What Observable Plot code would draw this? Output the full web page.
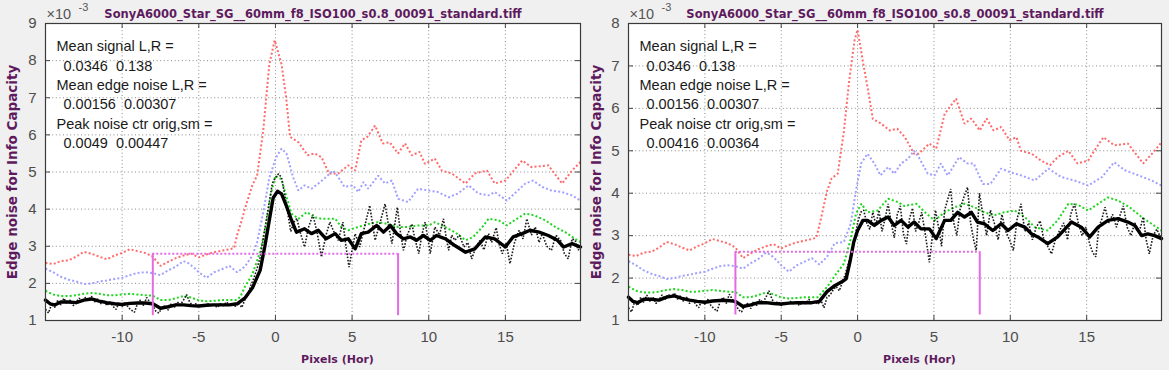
<!DOCTYPE html>
<html><head><meta charset="utf-8">
<script src="https://cdn.jsdelivr.net/npm/d3@7"></script>
<script src="https://cdn.jsdelivr.net/npm/@observablehq/plot@0.6"></script>
<style>
html,body{margin:0;padding:0;background:#f0f0f0;}
#wrap{position:relative;width:1169px;height:370px;overflow:hidden;background:#f0f0f0;}
.panel{position:absolute;top:0;}
</style></head><body><div id="wrap"></div>
<script>
// ---------- data (x in pixels, y in units of 1e-3) ----------
const titleText = "SonyA6000_Star_SG__60mm_f8_ISO100_s0.8_00091_standard.tiff";
const xTicks = [-10, -5, 0, 5, 10, 15];
const yTicksL = [1, 2, 3, 4, 5, 6, 7, 8, 9];
const yTicksR = [1, 2, 3, 4, 5, 6, 7, 8];

// shared dark side (identical in both panels)
const redBase = [[-15,2.55],[-14.5,2.52],[-14,2.6],[-13.5,2.62],[-13,2.72],[-12.5,2.85],[-12,2.8],[-11.5,2.72],[-11,2.65],[-10.5,2.75],[-10,2.82],[-9.5,2.92],[-9,2.87],[-8.5,2.82],[-8,2.72],[-7.5,2.47],[-7,2.58],[-6.5,2.68],[-6,2.75],[-5.5,2.8],[-5,2.7],[-4.5,2.78],[-4,2.84],[-3.5,2.88],[-3,2.92]];
const blueBase = [[-15,2.4],[-14.5,2.3],[-14,2.18],[-13.5,2.1],[-13,2.05],[-12.5,1.98],[-12,2.0],[-11.5,2.05],[-11,2.08],[-10.5,2.12],[-10,2.15],[-9.5,2.22],[-9,2.28],[-8.5,2.3],[-8,2.28],[-7.5,2.22],[-7,2.35],[-6.5,2.45],[-6,2.6],[-5.7,2.55],[-5.3,2.42],[-5,2.3],[-4.5,2.15],[-4,2.3],[-3.5,2.38],[-3,2.47],[-2.5,2.3]];
const greenBase = [[-15,1.8],[-14.5,1.7],[-14,1.66],[-13.5,1.66],[-13,1.68],[-12.5,1.72],[-12,1.74],[-11.5,1.72],[-11,1.68],[-10.5,1.68],[-10,1.7],[-9.5,1.72],[-9,1.7],[-8.5,1.68],[-8,1.67],[-7.5,1.55],[-7,1.55],[-6.5,1.6],[-6,1.66],[-5.5,1.62],[-5,1.54],[-4.5,1.52],[-4,1.53],[-3.5,1.55],[-3,1.55],[-2.6,1.55]];
const smoothBase = [[-15,1.55],[-14.7,1.45],[-14.4,1.42],[-14,1.5],[-13.5,1.5],[-13,1.48],[-12.5,1.55],[-12,1.58],[-11.5,1.52],[-11,1.48],[-10.5,1.45],[-10,1.43],[-9.5,1.46],[-9,1.47],[-8.5,1.47],[-8,1.45],[-7.5,1.33],[-7,1.37],[-6.5,1.42],[-6,1.42],[-5.5,1.4],[-5,1.39],[-4.5,1.41],[-4,1.42],[-3.5,1.42],[-3,1.42],[-2.5,1.45]];
const origBase = [[-15,1.3],[-14.8,1.2],[-14.6,1.45],[-14.4,1.35],[-14.2,1.55],[-14,1.42],[-13.8,1.6],[-13.6,1.45],[-13.4,1.55],[-13.2,1.4],[-13,1.5],[-12.8,1.6],[-12.6,1.5],[-12.4,1.62],[-12.2,1.55],[-12,1.65],[-11.8,1.5],[-11.6,1.58],[-11.4,1.45],[-11.2,1.55],[-11,1.4],[-10.8,1.5],[-10.6,1.38],[-10.4,1.3],[-10.2,1.48],[-10,1.38],[-9.8,1.5],[-9.6,1.35],[-9.4,1.28],[-9.2,1.22],[-9,1.45],[-8.8,1.55],[-8.6,1.4],[-8.4,1.62],[-8.2,1.5],[-8,1.4],[-7.8,1.25],[-7.6,1.2],[-7.4,1.35],[-7.2,1.4],[-7,1.28],[-6.8,1.45],[-6.6,1.35],[-6.4,1.5],[-6.2,1.42],[-6,1.55],[-5.8,1.7],[-5.6,1.5],[-5.4,1.4],[-5.2,1.45],[-5,1.35],[-4.8,1.42],[-4.6,1.38],[-4.4,1.45],[-4.2,1.4],[-4,1.42],[-3.8,1.35],[-3.6,1.45],[-3.4,1.4],[-3.2,1.5],[-3,1.42],[-2.8,1.45],[-2.6,1.38],[-2.4,1.48]];

// left panel, edge and bright side
const redA = [[-2.7,2.95],[-2.5,3.3],[-2.2,3.7],[-2,4.0],[-1.5,4.65],[-1.2,4.9],[-0.8,6.1],[-0.4,7.9],[-0.05,8.55],[0.4,7.9],[0.7,7.0],[0.95,5.95],[1.5,5.8],[2.1,5.45],[2.55,5.5],[3,5.4],[3.5,4.96],[4.1,4.96],[4.75,5.18],[5.2,5.04],[5.6,5.85],[6.0,5.95],[6.5,6.25],[7,5.77],[7.45,5.8],[8,5.5],[8.45,5.77],[8.9,5.45],[9.4,5.54],[9.75,5.22],[10.4,5.36],[10.85,5.04],[11.5,4.96],[12.4,4.69],[13,4.96],[13.8,5.04],[14.3,4.69],[15,4.77],[16.1,5.31],[16.7,5.13],[17.8,5.18],[18.7,4.69],[19.35,5.04],[19.9,5.27]];
const blueA = [[-2,2.45],[-1.5,2.75],[-1.2,3.1],[-0.8,3.9],[-0.4,4.85],[0.05,5.4],[0.4,5.63],[0.72,5.5],[1.15,4.86],[1.5,4.5],[1.9,4.64],[2.35,4.55],[2.8,4.69],[3.2,4.83],[3.77,5.04],[4.1,4.86],[4.5,4.6],[5.05,4.64],[5.4,4.46],[5.75,4.73],[6.05,4.55],[6.7,4.9],[7.15,4.69],[7.6,4.77],[8,4.28],[8.65,4.19],[9.3,4.55],[10,4.5],[10.6,4.46],[11.3,4.32],[11.9,4.42],[12.6,4.64],[13.25,4.42],[13.9,4.37],[14.3,4.46],[15.1,4.23],[15.6,4.42],[16.3,4.69],[16.8,4.77],[17.4,4.6],[18,4.5],[18.7,4.46],[19.35,4.37],[19.9,4.23]];
const greenA = [[-2.3,1.63],[-2,1.9],[-1.5,2.25],[-1,2.85],[-0.6,3.6],[-0.3,4.4],[0,4.9],[0.4,4.8],[0.7,4.35],[1.05,3.88],[1.5,3.74],[2.05,3.92],[2.55,3.78],[3,3.74],[3.9,3.74],[4.3,3.52],[4.75,3.43],[5.4,3.52],[6.05,3.6],[6.7,3.65],[7.35,3.6],[8,3.52],[8.65,3.52],[9.3,3.56],[10,3.56],[10.4,3.65],[11.05,3.52],[11.7,3.38],[12.4,3.16],[12.9,3.25],[13.5,3.52],[13.9,3.74],[14.55,3.7],[15.1,3.56],[15.6,3.7],[16.3,3.88],[16.9,3.83],[17.6,3.7],[18.25,3.52],[18.9,3.38],[19.55,3.2],[19.9,3.11]];
const smoothA = [[-2,1.6],[-1.5,1.88],[-1.0,2.35],[-0.7,2.98],[-0.4,3.7],[-0.15,4.3],[0.13,4.48],[0.4,4.41],[0.7,4.1],[1.05,3.7],[1.37,3.38],[1.9,3.47],[2.35,3.34],[2.8,3.43],[3.3,3.2],[3.9,3.34],[4.3,3.16],[4.75,3.2],[5.2,2.93],[5.6,3.34],[6.05,3.38],[6.6,3.56],[7.05,3.38],[7.5,3.56],[7.9,3.34],[8.35,3.2],[8.8,3.25],[9.2,3.16],[9.65,3.29],[10.1,3.16],[10.5,3.29],[11.1,3.2],[11.7,3.02],[12.4,2.84],[13,2.93],[13.7,3.25],[14.3,3.2],[15,2.98],[15.5,3.25],[16.1,3.34],[16.6,3.43],[17.2,3.38],[17.8,3.29],[18.4,3.16],[18.8,2.98],[19.35,3.07],[19.9,2.98]];
const origA = [[-2.2,1.35],[-2,1.55],[-1.8,1.7],[-1.6,1.95],[-1.4,2.15],[-1.2,2.4],[-1,2.7],[-0.8,3.2],[-0.6,3.7],[-0.4,4.2],[-0.2,4.7],[0,4.85],[0.2,4.95],[0.4,4.85],[0.6,4.4],[0.8,3.9],[1.0,3.4],[1.2,3.65],[1.4,3.75],[1.6,3.4],[1.9,2.98],[2.15,3.5],[2.45,3.85],[2.75,3.3],[3.0,2.71],[3.3,3.3],[3.55,3.65],[3.8,3.4],[4.1,3.16],[4.4,3.65],[4.6,3.0],[4.8,2.44],[5.0,2.9],[5.2,3.34],[5.5,2.98],[5.8,3.5],[6.15,4.1],[6.5,3.16],[6.8,3.6],[7.15,4.14],[7.4,3.5],[7.6,3.07],[7.95,4.05],[8.15,3.4],[8.35,2.89],[8.6,3.3],[8.9,3.6],[9.1,3.2],[9.35,2.8],[9.55,3.3],[9.76,3.65],[9.95,3.2],[10.1,2.8],[10.4,3.52],[10.7,3.3],[10.96,3.74],[11.15,3.2],[11.3,2.89],[11.5,3.3],[11.7,3.16],[12.0,3.3],[12.3,2.98],[12.55,3.1],[12.8,2.66],[13.1,3.0],[13.35,3.16],[13.6,2.9],[13.9,3.34],[14.1,3.1],[14.4,3.5],[14.6,3.05],[14.8,2.8],[15.05,3.1],[15.3,2.53],[15.6,3.1],[15.9,3.43],[16.15,3.2],[16.4,3.74],[16.7,3.3],[16.95,3.52],[17.2,3.1],[17.4,3.34],[17.7,3.0],[18.0,2.89],[18.3,3.3],[18.6,3.16],[18.85,2.8],[19.1,2.66],[19.35,3.2],[19.55,3.16],[19.75,2.9],[19.9,2.98]];

// right panel, edge and bright side
const redB = [[-2.7,2.95],[-2.4,3.4],[-2,4.05],[-1.7,4.35],[-1.3,4.46],[-0.9,5.45],[-0.55,6.65],[-0.2,7.6],[0,7.85],[0.35,7.1],[0.7,6.4],[1,5.75],[1.5,5.65],[2.1,5.48],[2.6,5.52],[3.1,5.32],[3.7,4.93],[4.0,4.93],[4.7,5.17],[5.15,5.05],[5.7,5.87],[6.45,6.23],[7,5.64],[7.45,5.76],[8,5.48],[8.45,5.76],[8.9,5.48],[9.4,5.56],[9.95,5.25],[10.4,5.32],[10.7,5.0],[11.4,4.93],[12,4.77],[12.6,4.66],[13.1,4.85],[13.8,5.0],[14.4,4.7],[15.1,4.77],[15.5,5.0],[16.1,5.32],[16.8,5.13],[17.7,5.17],[18.7,4.7],[19.45,5.0],[19.9,5.2]];
const blueB = [[-2,2.5],[-1.5,2.82],[-0.9,2.85],[-0.45,3.28],[-0.1,4.07],[0.23,4.7],[0.65,4.93],[1.1,4.7],[1.5,4.42],[2,4.62],[2.4,4.46],[2.85,4.7],[3.3,4.81],[3.7,5.0],[4.0,4.85],[4.6,4.46],[5.05,4.42],[5.45,4.7],[5.9,4.42],[6.65,4.85],[7.2,4.7],[7.6,4.7],[8.2,4.22],[8.7,4.22],[9.4,4.58],[9.95,4.5],[10.7,4.42],[11.6,4.3],[12.5,4.58],[13.35,4.38],[14.2,4.3],[15.1,4.18],[16,4.38],[16.8,4.73],[17.5,4.54],[18.4,4.42],[19.25,4.3],[19.9,4.18]];
const greenB = [[-2,1.79],[-1.5,2.05],[-0.9,2.34],[-0.45,2.92],[-0.1,3.52],[0.25,3.75],[0.65,3.55],[1.3,3.59],[2.0,3.87],[2.65,3.79],[3.05,3.7],[3.85,3.75],[4.5,3.52],[5.05,3.36],[5.7,3.55],[6.35,3.67],[7.0,3.75],[7.65,3.67],[8.3,3.55],[8.95,3.48],[9.6,3.55],[10.3,3.59],[10.95,3.44],[11.6,3.2],[12.45,3.12],[13.1,3.36],[13.8,3.75],[14.4,3.73],[15.1,3.59],[15.75,3.75],[16.4,3.9],[17.05,3.83],[17.8,3.67],[18.6,3.44],[19.25,3.28],[19.9,3.12]];
const smoothB = [[-2,1.68],[-1.5,1.82],[-1.0,1.92],[-0.75,1.98],[-0.5,2.38],[-0.25,2.85],[0,3.12],[0.35,3.36],[0.65,3.36],[1.1,3.24],[1.55,3.36],[2,3.44],[2.4,3.24],[2.85,3.36],[3.3,3.2],[3.7,3.32],[4.15,3.16],[4.7,3.16],[5.15,2.93],[5.7,3.36],[6.1,3.36],[6.55,3.55],[7,3.44],[7.45,3.55],[7.85,3.32],[8.3,3.28],[8.85,3.12],[9.4,3.28],[9.85,3.12],[10.4,3.28],[10.95,3.2],[11.4,3.04],[11.8,2.97],[12.45,2.81],[13.1,2.97],[14,3.32],[14.65,3.2],[15.2,2.97],[15.75,3.2],[16.4,3.36],[17.05,3.4],[17.7,3.32],[18.15,3.24],[18.6,3.0],[19,3.04],[19.45,3.0],[19.9,2.93]];
const origB = [[-2.2,1.3],[-2,1.55],[-1.8,1.6],[-1.6,1.72],[-1.4,1.8],[-1.2,1.7],[-1,1.9],[-0.8,2.1],[-0.6,2.35],[-0.4,2.6],[-0.2,2.9],[0,3.3],[0.2,3.55],[0.4,3.6],[0.6,3.3],[0.8,3.15],[1.0,3.55],[1.2,3.25],[1.4,3.6],[1.6,3.1],[1.8,3.4],[2.0,3.75],[2.2,3.3],[2.4,2.95],[2.6,3.5],[2.8,3.7],[3.0,3.05],[3.2,2.8],[3.4,3.4],[3.6,3.65],[3.8,3.1],[4.0,3.3],[4.2,3.55],[4.45,3.0],[4.7,2.37],[4.9,3.0],[5.1,3.6],[5.3,3.2],[5.5,2.75],[5.7,3.6],[5.9,3.85],[6.1,4.1],[6.3,3.3],[6.5,3.0],[6.7,3.6],[6.95,3.9],[7.2,4.14],[7.4,3.3],[7.6,2.9],[7.77,2.65],[7.98,4.0],[8.2,3.5],[8.45,3.0],[8.7,3.6],[8.95,3.3],[9.2,2.9],[9.45,3.5],[9.7,3.1],[9.95,2.9],[10.2,2.65],[10.45,3.4],[10.7,3.75],[10.95,3.1],[11.2,3.3],[11.45,2.9],[11.7,3.2],[11.95,3.35],[12.2,2.9],[12.45,2.75],[12.7,2.57],[12.95,2.9],[13.2,3.1],[13.5,3.3],[13.75,2.9],[13.95,3.5],[14.2,3.75],[14.45,3.3],[14.7,3.0],[14.95,3.2],[15.2,2.8],[15.4,2.6],[15.6,2.5],[15.8,3.2],[16.0,3.4],[16.2,3.67],[16.45,3.3],[16.7,3.5],[16.95,3.2],[17.2,3.5],[17.4,3.7],[17.65,3.2],[17.9,3.0],[18.15,3.3],[18.45,3.1],[18.7,3.44],[18.9,2.9],[19.1,2.57],[19.35,3.0],[19.6,3.15],[19.9,2.9]];

// magenta averaging region
const regionX = [-8, 8];
const regionBottom = 1.13;
const levelL = 2.8;
const levelR = 2.62;

// annotation text
const statLabels = ["Mean signal L,R =", "Mean edge noise L,R =", "Peak noise ctr orig,sm ="];
const statValuesL = ["0.0346  0.138", "0.00156  0.00307", "0.0049  0.00447"];
const statValuesR = ["0.0346  0.138", "0.00156  0.00307", "0.00416  0.00364"];

// ---------- drawing ----------
const pts = a => a.map(([x, y]) => ({x, y}));
const purple = "#5e1a5e";
const titleFont = "DejaVu Sans, Verdana, sans-serif";

function panel(cfg) {
  const W = 584, H = 370, mt = 23, mb = 50;
  const {ml, mr, yMax, yTicks, red, blue, green, orig, smooth, level, values} = cfg;
  const xDom = [-15, 19.9], yDom = [1, yMax];
  const tLy = (yMax - 1) * 5 / (H - mt - mb);
  const tLx = (xDom[1] - xDom[0]) * 5 / (W - ml - mr);
  const grid = {stroke: "#8a8a8a", strokeOpacity: 1, strokeDasharray: "1,2.6", strokeWidth: 1};
  const dotted = {strokeWidth: 2, strokeDasharray: "2,2.2", strokeLinecap: "butt", strokeLinejoin: "miter"};
  const textMarks = [];
  statLabels.forEach((t, i) => {
    textMarks.push(Plot.text([t], {text: d => d, frameAnchor: "top-left", dx: 11, dy: 27.7 + i * 38.8, lineAnchor: "bottom", textAnchor: "start", fontSize: 14.5, fill: "#1a1a1a"}));
    textMarks.push(Plot.text([values[i].replace(/ /g, "\u00a0")], {text: d => d, frameAnchor: "top-left", dx: 18, dy: 47.1 + i * 38.8, lineAnchor: "bottom", textAnchor: "start", fontSize: 14.5, fill: "#1a1a1a"}));
  });
  const regionRows = regionX.map(x => ({x, y1: regionBottom, y2: level}));
  return Plot.plot({
    width: W, height: H, marginLeft: ml, marginRight: mr, marginTop: mt, marginBottom: mb,
    x: {domain: xDom}, y: {domain: yDom},
    style: {background: "transparent", fontFamily: "Liberation Sans, Arial, sans-serif", overflow: "visible"},
    marks: [
      Plot.frame({fill: "white", stroke: null}),
      Plot.gridX(xTicks, grid),
      Plot.gridY(yTicks, grid),
      Plot.ruleX(xTicks, {x: d => d, y1: 1, y2: 1 + tLy, stroke: "#444"}),
      Plot.ruleX(xTicks, {x: d => d, y1: yMax - tLy, y2: yMax, stroke: "#444"}),
      Plot.ruleY(yTicks, {y: d => d, x1: xDom[0], x2: xDom[0] + tLx, stroke: "#444"}),
      Plot.ruleY(yTicks, {y: d => d, x1: xDom[1] - tLx, x2: xDom[1], stroke: "#444"}),
      Plot.axisX(xTicks, {tickSize: 0, tickPadding: 11, fontSize: 15, fill: "#4d4d4d", tickFormat: d => String(d), label: null}),
      Plot.axisY(yTicks, {tickSize: 0, tickPadding: 9, fontSize: 15, fill: "#4d4d4d", tickFormat: d => String(d), label: null}),
      Plot.line(pts(red), {x: "x", y: "y", stroke: "#ff6a6a", ...dotted}),
      Plot.line(pts(blue), {x: "x", y: "y", stroke: "#a0a0ff", ...dotted}),
      Plot.line(pts(green), {x: "x", y: "y", stroke: "#1fd61f", ...dotted}),
      Plot.line(pts(orig), {x: "x", y: "y", stroke: "#1a1a1a", strokeWidth: 1.6, strokeDasharray: "1.6,1.6", strokeLinecap: "butt", strokeLinejoin: "miter"}),
      Plot.line(pts(smooth), {x: "x", y: "y", stroke: "#000", strokeWidth: 3.4, strokeLinejoin: "round"}),
      Plot.ruleY([level], {y: d => d, x1: regionX[0], x2: regionX[1], stroke: "#e36be3", strokeWidth: 2, strokeDasharray: "2,2"}),
      Plot.ruleX(regionRows, {x: "x", y1: "y1", y2: "y2", stroke: "#e36be3", strokeWidth: 2}),
      Plot.frame({stroke: "#3a3a3a", strokeWidth: 1.2}),
      ...textMarks,
      Plot.text([titleText], {text: d => d, frameAnchor: "top", dy: -6, lineAnchor: "bottom", fontSize: 11.5, fontWeight: "bold", fill: purple, fontFamily: titleFont}),
      Plot.text(["\u00d710"], {text: d => d, frameAnchor: "top-left", dx: 1, dy: -4.5, lineAnchor: "bottom", textAnchor: "start", fontSize: 14.5, fill: "#555"}),
      Plot.text(["-3"], {text: d => d, frameAnchor: "top-left", dx: 33, dy: -13, lineAnchor: "bottom", textAnchor: "start", fontSize: 11, fill: "#555"}),
      Plot.text(["Edge noise for Info Capacity"], {text: d => d, frameAnchor: "left", dx: cfg.ylabDx, rotate: -90, textAnchor: "middle", lineAnchor: "middle", fontSize: 13.5, fontWeight: "bold", fill: purple, fontFamily: titleFont}),
      Plot.text(["Pixels (Hor)"], {text: d => d, frameAnchor: "bottom", dx: 24.5, dy: 42, lineAnchor: "bottom", fontSize: 11, fontWeight: "bold", fill: purple, fontFamily: titleFont})
    ]
  });
}

const wrap = document.getElementById("wrap");
const left = panel({ml: 45, mr: 4, yMax: 9, yTicks: yTicksL,
  red: redBase.concat(redA), blue: blueBase.concat(blueA), green: greenBase.concat(greenA),
  orig: origBase.concat(origA), smooth: smoothBase.concat(smoothA), level: levelL, values: statValuesL, ylabDx: -32.5});
const right = panel({ml: 44, mr: 7, yMax: 8, yTicks: yTicksR,
  red: redBase.concat(redB), blue: blueBase.slice(0, -1).concat([[-2.5, 2.32]], blueB), green: greenBase.concat(greenB),
  orig: origBase.concat(origB), smooth: smoothBase.concat(smoothB), level: levelR, values: statValuesR, ylabDx: -31.5});
const d1 = document.createElement("div"); d1.className = "panel"; d1.style.left = "0px"; d1.appendChild(left);
const d2 = document.createElement("div"); d2.className = "panel"; d2.style.left = "584px"; d2.appendChild(right);
wrap.appendChild(d1); wrap.appendChild(d2);
</script></body></html>
